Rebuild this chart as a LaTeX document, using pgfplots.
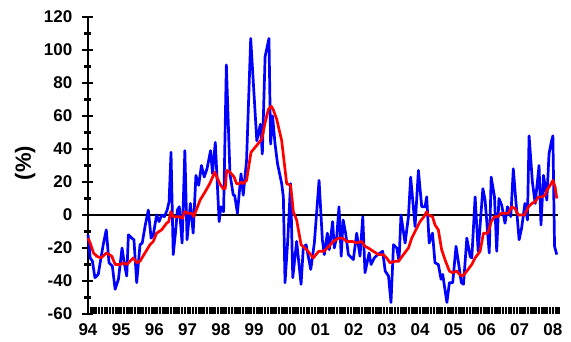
\documentclass[border=0pt]{standalone}
\usepackage{pgfplots}
\pgfplotsset{compat=1.18}
\usepackage{fontspec}
\setmainfont{Liberation Sans}
\newcommand{\lblfont}{\fontsize{17}{20}\selectfont\bfseries}
\newcommand{\ylblfont}{\fontsize{22}{26}\selectfont\bfseries}
\begin{document}
\begin{tikzpicture}
\useasboundingbox (0,0) rectangle (571pt,341pt);
% axis A: data and y axis
\begin{axis}[
  at={(88pt,27pt)}, anchor=south west,
  scale only axis, width=471.8pt, height=297pt,
  xmin=0, xmax=170.5, ymin=-60, ymax=120,
  clip=false,
  axis y line*=left,
  hide x axis,
  axis line style={line width=2.3pt, black},
  ytick={-60,-40,...,120},
  yticklabels={-60,-40,-20,0,20,40,60,80,100,120},
  minor y tick num=1,
  ytick align=center,
  major tick length=11pt, minor tick length=7pt,
  every tick/.append style={line width=2.3pt, black},
  major tick style={line width=2.3pt, black},
  minor tick style={line width=2.3pt, black},
  yticklabel style={font=\lblfont, anchor=east, inner sep=0pt, xshift=-10pt},
  ylabel={(\%)},
  ylabel style={at={(axis description cs:-0.133,0.508)}, anchor=center, font=\ylblfont},
]
\addplot[black, line width=2.3pt] coordinates {(0,0) (170,0)};
\addplot[blue, line width=2.7pt, line join=round] coordinates {
(0,-12)(0.8,-26)(1.6,-28)(2.5,-38)(3.7,-36)(5.5,-18)(6.6,-9)(7.6,-29)(8.8,-31)(9.8,-45)
(11,-39)(12.3,-20)(13.1,-29)(14,-37)(14.6,-12)(15.8,-14)(16.6,-15)(17.6,-41)(18.8,-18)(19.6,-17)
(20.6,-7)(21.8,3)(22.8,-14)(23.6,-12)(24.8,0)(25.7,-4)(26.6,0)(27.6,-1)(28.6,3)(29.3,8)
(30,38)(30.8,-24)(31.6,-11)(32.3,3)(33,5)(34,-17)(35,39)(35.8,-15)(37,7)(38,-11)
(39,24)(40,18)(41,30)(42,23)(43,28)(44.3,39)(45,25)(46,44)(47.4,-4)(48,5)
(49,2)(50,91)(51.3,25)(52.5,12)(53,12)(54,1)(55.3,25)(56.1,12)(57.3,33)(58.8,107)
(61,45)(62.3,55)(63,37)(64,96)(65.4,107)(66,43)(66.7,60)(67.6,43)(68.5,31)(70,19)
(70.6,11)(71.2,-41)(72.2,-15)(73.2,19)(74,-38)(75.4,-16)(77,-42)(77.8,-20)(78.8,-18)(80.5,-33)
(81.8,-17)(83.5,21)(84.7,-15)(85.4,-24)(86.5,-11)(87.2,-21)(88.4,-4)(89,-20)(89.9,-13)(90.7,5)
(91.5,-25)(92.2,-3)(93.1,-11)(94.1,-24)(95.9,-27)(97.1,-11)(98.3,-25)(99.3,-1)(100.1,-35)(101.6,-23)
(102.3,-30)(103.5,-26)(104.7,-24)(106.5,-22)(107.4,-34)(108.6,-37)(109.5,-53)(110.4,-18)(111.6,-20)(112.4,-28)
(113.1,0)(114.6,-17)(115.8,-1)(116.6,23)(118.2,-7)(119.4,27)(120.6,5)(121.8,5)(122.4,11)(123.3,-17)
(124.5,-11)(125.4,-29)(126.6,-30)(127.6,-39)(128.2,-36)(128.8,-43)(129.7,-53)(130.6,-41)(131.8,-41)(133,-19)
(133.9,-29)(134.9,-41)(135.7,-42)(136.9,-14)(138.1,-25)(138.7,-26)(139.9,11)(141,-22)(142.7,16)(143.5,9)
(145,-23)(145.7,23)(146.9,11)(147.7,-22)(148.5,10)(149.5,6)(150.7,-5)(151.6,5)(152.8,-1)(153.7,28)
(154.6,9)(155.8,-15)(156.7,-8)(157.9,7)(158.8,-3)(159.4,48)(160.6,20)(161.6,7)(163,30)(163.7,-6)
(164.6,24)(165.2,18)(165.8,9)(166.6,37)(167.4,44)(168,48)(168.6,-19)(169.4,-24)
};
\addplot[red, line width=2.7pt, line join=round] coordinates {
(0,-14)(0.8,-17)(2,-23)(3.2,-25)(4.7,-26)(6.7,-23)(8.6,-25)(9.8,-30)(11.6,-30)(12.8,-29)
(14,-30)(16.4,-26)(17.6,-29)(18.8,-28)(20.6,-23)(22.4,-18)(23.6,-16)(24.8,-11)(26.6,-9)(28.4,-5)
(29.2,-4)(29.9,2)(30.8,-1)(33.2,-1)(34.2,-2)(34.9,2)(36.3,1)(37.5,1)(38.2,-1)(40.5,9)
(42.3,14)(44,19)(45.8,26)(47.6,19)(48.8,16)(49.6,16)(50.1,27)(51.3,26)(52.8,23)(53.7,19)
(54.7,19)(55.5,20)(56.1,19)(57.3,21)(58.9,38)(60.4,41)(62.8,46)(64,56)(65.2,64)(66.2,66)
(66.9,64)(68.2,58)(70,45)(71.8,19)(73.2,18)(73.8,9)(74.2,2)(75.4,-3)(77,-18)(79,-21)
(81.4,-26)(83.4,-22)(85.3,-22)(87,-19)(88.7,-16)(90.5,-14)(92,-14)(93.5,-16)(95.5,-16)(97.1,-17)
(98.9,-16)(100.1,-19)(101.3,-20)(103.1,-22)(105,-24)(106.7,-24)(107.9,-26)(109.2,-29)(111,-28)(112.2,-28)
(114,-24)(115.8,-20)(117,-14)(118.8,-8)(120,-4)(121.4,-1)(122.4,2)(123,0)(124.5,-1)(125.4,-6)
(126.6,-9)(127.8,-21)(129,-27)(130.6,-34)(131.8,-35)(133.3,-34)(134.2,-36)(135.4,-37)(136.9,-34)(138.7,-30)
(139.9,-26)(141.7,-22)(142.9,-11)(144.5,-11)(145.7,-4)(146.9,-1)(148.1,-1)(149.3,1)(151,1)(151.9,1)
(153.1,5)(154.3,4)(155.5,0)(157.7,0)(159.2,5)(160.4,7)(161.6,8)(162.8,11)(164,11)(165.2,12)
(165.8,15)(167,18)(168,21)(168.8,17)(169.4,10)
};
\end{axis}
% axis B: monthly x ticks and year labels
\begin{axis}[
  at={(88pt,27pt)}, anchor=south west,
  scale only axis, width=471.8pt, height=297pt,
  xmin=0, xmax=170.5, ymin=-60, ymax=120,
  hide y axis,
  axis x line*=bottom,
  x axis line style={draw=none},
  xtick={0,12,...,168},
  xticklabels={94,95,96,97,98,99,00,01,02,03,04,05,06,07,08},
  minor xtick={0,1,...,170},
  xtick align=inside,
  major tick length=7pt, minor tick length=7pt,
  every tick/.append style={line width=2.2pt, black},
  major tick style={line width=2.2pt, black},
  minor tick style={line width=2.2pt, black},
  xticklabel style={font=\lblfont, anchor=north, inner sep=0pt, yshift=-9pt},
]
\addplot[draw=none] coordinates {(0,0)};
\end{axis}
\end{tikzpicture}
\end{document}
